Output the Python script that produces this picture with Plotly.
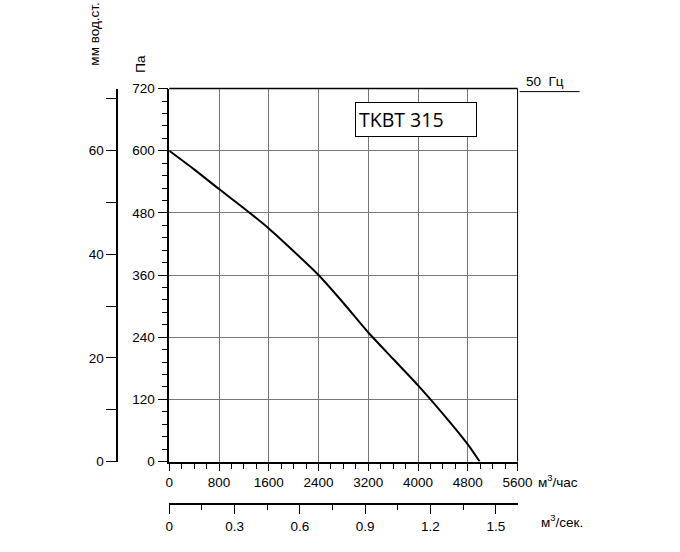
import plotly.graph_objects as go

# flow (m3/h) vs static pressure (Pa)
flow = [0, 400, 800, 1200, 1600, 2000, 2400, 2800, 3200, 3600, 4000, 4400, 4800, 4990]
pressure = [600, 564, 526, 489, 450, 406, 360, 306, 249, 198, 147, 92, 33, 0]

x_ticks = [0, 800, 1600, 2400, 3200, 4000, 4800, 5600]
pa_ticks = [0, 120, 240, 360, 480, 600, 720]
mm_ticks = [0, 20, 40, 60]
ms_ticks = [0, 0.3, 0.6, 0.9, 1.2, 1.5]


# screen pixel -> paper fraction (page is rendered slightly larger and scaled down)
def px(x):
    return (x - 4.9) / 660.4


def py(y):
    return 1 - (y - 7.6) / 535.7


x0, x1, ytop, ybot = 170, 518, 89, 461
font = dict(family="Liberation Sans, Arial", size=13.5, color="black")

fig = go.Figure()
fig.add_trace(go.Scatter(x=flow, y=pressure, mode="lines",
                         line=dict(color="black", width=2, shape="spline", smoothing=0.6),
                         showlegend=False))
# dummy traces so the extra axes are drawn
fig.add_trace(go.Scatter(x=[0], y=[0], xaxis="x2", yaxis="y", mode="markers",
                         marker=dict(opacity=0), showlegend=False, hoverinfo="skip"))
fig.add_trace(go.Scatter(x=[0], y=[0], xaxis="x", yaxis="y2", mode="markers",
                         marker=dict(opacity=0), showlegend=False, hoverinfo="skip"))

fig.update_layout(
    autosize=True, margin=dict(l=0, r=0, t=0, b=0),
    plot_bgcolor="white", paper_bgcolor="white", font=font,
    xaxis=dict(domain=[px(x0), px(x1)], range=[0, 5600], tickvals=x_ticks,
               showgrid=True, gridcolor="#777", gridwidth=1, zeroline=False,
               showline=True, linecolor="black", linewidth=1.5, mirror=False,
               ticks="outside", ticklen=8, tickcolor="black",
               minor=dict(dtick=200, ticks="outside", ticklen=6, tickcolor="black", showgrid=False),
               anchor="y"),
    yaxis=dict(domain=[py(ybot), py(ytop)], range=[0, 720], tickvals=pa_ticks,
               showgrid=True, gridcolor="#777", gridwidth=1, zeroline=False,
               showline=True, linecolor="black", linewidth=1.5,
               ticks="outside", ticklen=10, tickcolor="black",
               minor=dict(dtick=24, ticks="outside", ticklen=6, tickcolor="black", showgrid=False),
               anchor="x"),
    xaxis2=dict(overlaying="x", anchor="free", position=py(503), side="bottom",
                range=[0, 1.6], tickvals=ms_ticks, showgrid=False, zeroline=False,
                showline=True, linecolor="black", linewidth=1.5,
                ticks="outside", ticklen=10, tickcolor="black",
                minor=dict(dtick=0.15, ticks="outside", ticklen=6, tickcolor="black")),
    yaxis2=dict(overlaying="y", anchor="free", position=px(118), side="left",
                range=[0, 72], tickvals=mm_ticks, showgrid=False, zeroline=False,
                showline=True, linecolor="black", linewidth=1.5,
                ticks="outside", ticklen=10, tickcolor="black",
                minor=dict(dtick=10, ticks="outside", ticklen=10, tickcolor="black")),
)

# top and right frame of the plot
fig.add_shape(type="line", xref="paper", yref="paper", x0=px(x0), x1=px(x1),
              y0=py(ytop), y1=py(ytop), line=dict(color="black", width=1.5))
fig.add_shape(type="line", xref="paper", yref="paper", x0=px(x1), x1=px(x1),
              y0=py(ybot), y1=py(ytop), line=dict(color="black", width=1))
# 50 Hz underline
fig.add_shape(type="line", xref="paper", yref="paper", x0=px(520), x1=px(580),
              y0=py(92), y1=py(92), line=dict(color="black", width=1))


def ann(text, x, y, **kw):
    fig.add_annotation(text=text, x=px(x), y=py(y), xref="paper", yref="paper",
                       xanchor="center", yanchor="middle", showarrow=False, **kw)


ann("50  Гц", 545, 82)
ann("мм вод.ст.", 95, 35, textangle=-90)
ann("Па", 141, 64, textangle=-90)
ann("м<sup>3</sup>/час", 558, 480)
ann("м<sup>3</sup>/сек.", 562, 520)
ann("TKBT 315", 417, 120, font=dict(family="Open Sans", size=19.5, color="black"),
    bordercolor="black", borderwidth=1, bgcolor="white", borderpad=3, width=114, align="left")

fig.write_html("out.html", config={"displayModeBar": False, "responsive": True},
               default_width="100%", default_height="100%",
               post_script=("document.documentElement.style.height='100%';"
                            "document.body.style.height='100%';"
                            "document.body.style.margin='0';"
                            "document.body.style.overflow='hidden';"
                            "Plotly.Plots.resize(document.getElementById('{plot_id}'));"))
